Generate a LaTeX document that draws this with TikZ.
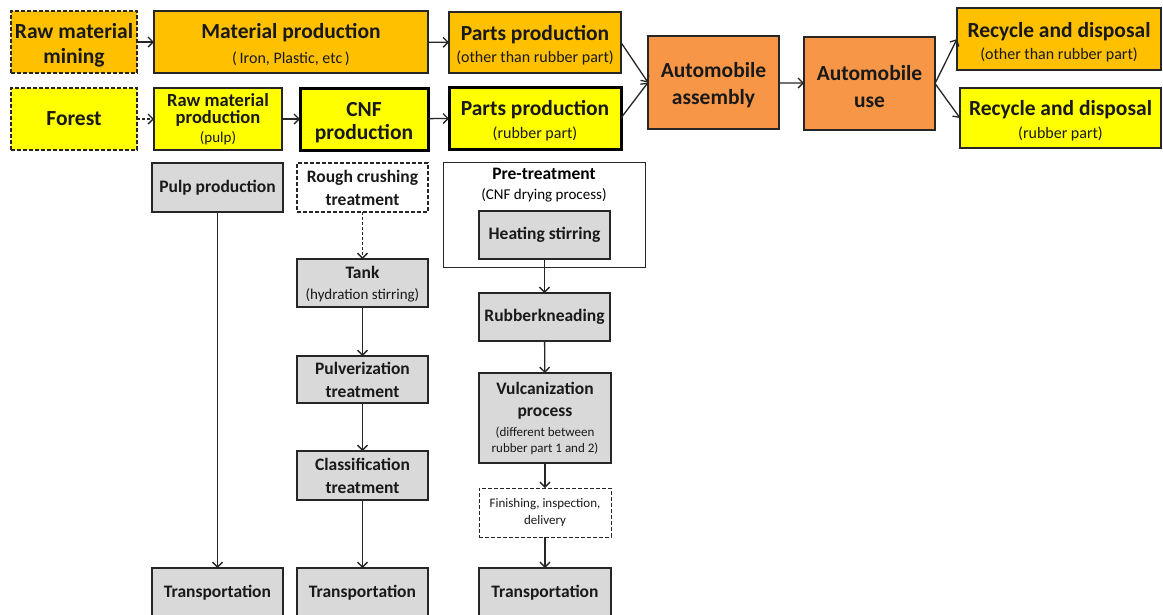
\documentclass[tikz,border=0pt]{standalone}
\usepackage{fontspec}
\setmainfont{Carlito}
\usetikzlibrary{arrows.meta}
\definecolor{amber}{HTML}{FFC000}
\definecolor{lemon}{HTML}{FFFF00}
\definecolor{carrot}{HTML}{F79646}
\definecolor{stepgray}{HTML}{D9D9D9}
\newcommand\ttlA{\fontsize{21.5}{25}\selectfont\bfseries}
\newcommand\ttlB{\fontsize{17.5}{21}\selectfont\bfseries}
\newcommand\ttlR{\fontsize{18.5}{21}\selectfont\bfseries}
\newcommand\subA{\fontsize{16}{19}\selectfont\mdseries}
\newcommand\subB{\fontsize{15}{18}\selectfont\mdseries}
\newcommand\subC{\fontsize{13}{16}\selectfont\mdseries}
% extra head room on a first line, to sit two-line labels a little lower
\newcommand\headroom{\rule{0pt}{21pt}}
\tikzset{
  box/.style={draw=black!85, line width=1.3pt, outer sep=0pt, inner sep=1pt, align=center, text=black!90, font=\ttlA},
  amberbox/.style={box, fill=amber},
  lemonbox/.style={box, fill=lemon},
  carrotbox/.style={box, fill=carrot},
  graybox/.style={box, fill=stepgray, font=\ttlB},
  dashbox/.style={dash pattern=on 4pt off 2pt},
  heavy/.style={line width=3pt, draw=black},
  flow/.style={-{Straight Barb[length=5pt,width=10pt]}, line width=1.3pt, draw=black!85},
}
\begin{document}
\begin{tikzpicture}[x=1pt,y=-1pt]
\useasboundingbox (0,0) rectangle (1163,614);
\clip (0,0) rectangle (1163,614);
\fill[white] (0,0) rectangle (1163,614);

% upper row: conventional materials
\node[amberbox, dashbox, minimum width=126pt, minimum height=62pt] (mining) at (74,42)
  {\headroom Raw material\\mining};
\node[amberbox, minimum width=274pt, minimum height=62pt] (matprod) at (291,42)
  {\headroom Material production\\\subA (\,Iron, Plastic, etc\,)};
\node[amberbox, minimum width=172pt, minimum height=61pt] (partsO) at (535,42.5)
  {\headroom Parts production\\[-3pt]\subA (other than rubber part)};

% lower row: CNF route
\node[lemonbox, dashbox, minimum width=126pt, minimum height=62pt] (forest) at (74,119)
  {Forest};
\node[lemonbox, font=\ttlR, minimum width=128pt, minimum height=62pt] (rawprod) at (218,119)
  {Raw material\\[-4pt]production\\[-2pt]\subB (pulp)};
\node[lemonbox, heavy, minimum width=128pt, minimum height=62pt] (cnf) at (364,119)
  {\headroom CNF\\[-2pt]production};
\node[lemonbox, heavy, minimum width=172pt, minimum height=62pt] (partsR) at (535,118)
  {\headroom Parts production\\[-2pt]\subA (rubber part)};

% assembly, use, end of life
\node[carrotbox, minimum width=131pt, minimum height=93pt] (assembly) at (713.5,82.5)
  {\headroom Automobile\\[2pt]assembly};
\node[carrotbox, minimum width=131pt, minimum height=93pt] (use) at (869.5,83.5)
  {\headroom Automobile\\[2pt]use};
\node[amberbox, minimum width=204pt, minimum height=62pt] (recO) at (1059,39)
  {\headroom Recycle and disposal\\[-3pt]\subA (other than rubber part)};
\node[lemonbox, minimum width=201pt, minimum height=60pt] (recR) at (1060.5,118)
  {\headroom Recycle and disposal\\[-2pt]\subA (rubber part)};

% process detail: pulp column
\node[graybox, minimum width=131pt, minimum height=49pt] (pulp) at (217.5,187.5)
  {Pulp production};
\node[graybox, minimum width=131pt, minimum height=49pt] (trans1) at (217.5,592.5)
  {Transportation};

% process detail: CNF column
\node[box, dashbox, fill=white, font=\ttlB, minimum width=131pt, minimum height=49pt] (rough) at (362.5,187.5)
  {Rough crushing\\[2pt]treatment};
\node[graybox, minimum width=131pt, minimum height=48pt] (tank) at (362.5,283)
  {\rule{0pt}{15pt}Tank\\\subB (hydration stirring)};
\node[graybox, minimum width=131pt, minimum height=47pt] (pulver) at (362.5,379.5)
  {Pulverization\\[2pt]treatment};
\node[graybox, minimum width=131pt, minimum height=49pt] (classif) at (362.5,475.5)
  {Classification\\[2pt]treatment};
\node[graybox, minimum width=131pt, minimum height=49pt] (trans2) at (362.5,592.5)
  {Transportation};

% process detail: rubber part column
\node[box, line width=1pt, fill=white, minimum width=202pt, minimum height=105pt] (pretreat) at (544,214.5) {};
\node[anchor=north, align=center, inner sep=0pt, font=\ttlB] (pretitle) at (544,168)
  {Pre-treatment\\[-1pt]\subB (CNF drying process)};
\node[graybox, minimum width=131pt, minimum height=48pt] (heating) at (544.5,235)
  {Heating stirring};
\node[graybox, minimum width=131pt, minimum height=48pt] (kneading) at (544.5,317)
  {Rubber\hspace{0.5pt}kneading};
\node[graybox, minimum width=132pt, minimum height=90pt] (vulc) at (545,418)
  {Vulcanization\\[1pt]process\\[-1pt]\subC (different between\\[-5pt]\subC rubber part 1 and 2)};
\node[box, dashbox, line width=1pt, fill=white, font=\subC, minimum width=132pt, minimum height=49pt] (finish) at (545,512.5)
  {Finishing, inspection,\\[1pt]delivery};
\node[graybox, minimum width=132pt, minimum height=49pt] (trans3) at (545,592.5)
  {Transportation};

% connectors, main chain
\draw[flow] (mining) -- (matprod);
\draw[flow] (matprod) -- (partsO);
\draw[flow, dash pattern=on 3pt off 2pt] (forest) -- (rawprod);
\draw[flow] (rawprod) -- (cnf);
\draw[flow] (cnf) -- (partsR);
\draw[flow] (partsO.east) -- (assembly.west);
\draw[flow] (partsR.east) -- (assembly.west);
\draw[flow] (assembly) -- (use);
\draw[flow] (use.east) -- (recO.west);
\draw[flow] (use.east) -- (recR.west);

% connectors, process columns
\draw[flow] (pulp) -- (trans1);
\draw[flow, dash pattern=on 3pt off 2pt] (rough) -- (tank);
\draw[flow] (tank) -- (pulver);
\draw[flow] (pulver) -- (classif);
\draw[flow] (classif) -- (trans2);
\draw[flow] (heating) -- (kneading);
\draw[flow] (kneading) -- (vulc);
\draw[flow] (vulc) -- (finish);
\draw[flow] (finish) -- (trans3);
\end{tikzpicture}
\end{document}
